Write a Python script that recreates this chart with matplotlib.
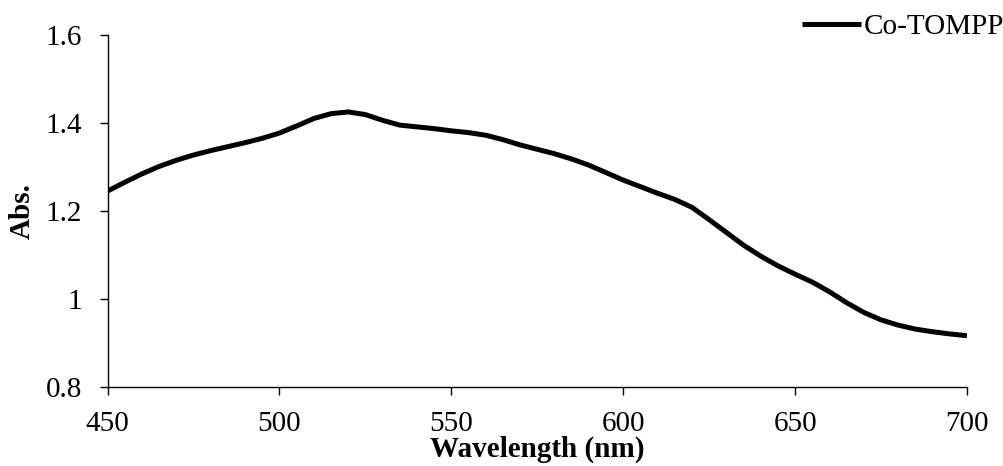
import matplotlib
matplotlib.use("Agg")
import matplotlib.pyplot as plt

# UV-Vis absorption spectrum of Co-TOMPP
wavelength = [450, 455, 460, 465, 470, 475, 480, 485, 490, 495,
              500, 505, 510, 515, 520, 525, 530, 535, 540, 545,
              550, 555, 560, 565, 570, 575, 580, 585, 590, 595,
              600, 605, 610, 615, 620, 625, 630, 635, 640, 645,
              650, 655, 660, 665, 670, 675, 680, 685, 690, 695, 700]
absorbance = [1.245, 1.265, 1.284, 1.301, 1.315, 1.327, 1.337, 1.346, 1.355, 1.365,
              1.377, 1.393, 1.410, 1.421, 1.425, 1.419, 1.406, 1.395, 1.391, 1.387,
              1.382, 1.378, 1.372, 1.362, 1.350, 1.340, 1.330, 1.318, 1.304, 1.287,
              1.270, 1.255, 1.240, 1.226, 1.208, 1.180, 1.151, 1.122, 1.097, 1.075,
              1.056, 1.038, 1.016, 0.991, 0.969, 0.952, 0.940, 0.931, 0.925, 0.920, 0.916]

series_name = "Co-TOMPP"
x_ticks = [450, 500, 550, 600, 650, 700]
y_ticks = [0.8, 1.0, 1.2, 1.4, 1.6]
y_tick_labels = ["0.8", "1", "1.2", "1.4", "1.6"]

plt.rcParams["font.family"] = ["Liberation Serif", "DejaVu Serif"]
FS = 21

fig = plt.figure(figsize=(10.04, 4.66), dpi=100)
ax = fig.add_axes([0.1071, 0.1702, 0.9631 - 0.1071, 0.9249 - 0.1702])

line, = ax.plot(wavelength, absorbance, color="black", lw=3.6,
                solid_capstyle="butt", solid_joinstyle="round",
                label=series_name)

ax.set_xlim(450, 700)
ax.set_ylim(0.8, 1.6)
ax.set_xticks(x_ticks)
ax.set_xticklabels([str(v) for v in x_ticks])
ax.set_yticks(y_ticks)
ax.set_yticklabels(y_tick_labels)

for side in ("top", "right"):
    ax.spines[side].set_visible(False)
for side in ("left", "bottom"):
    ax.spines[side].set_linewidth(1.0)
    ax.spines[side].set_color("black")

ax.tick_params(axis="both", direction="out", length=5.5, width=1.0,
               labelsize=FS, colors="black")
ax.tick_params(axis="y", pad=13)
ax.tick_params(axis="x", pad=12)

ax.set_xlabel("Wavelength (nm)", fontsize=FS, fontweight="bold")
ax.xaxis.set_label_coords(0.5, -0.140)
ax.set_ylabel("Abs.", fontsize=FS, fontweight="bold")
ax.yaxis.set_label_coords(-0.083, 0.5)

fig.legend(handles=[line], loc="center right",
           bbox_to_anchor=(1004 / 1004, 1 - 27 / 466),
           bbox_transform=fig.transFigure, frameon=False,
           fontsize=FS, handlelength=2.0, handletextpad=0.1,
           borderpad=0, borderaxespad=0)

fig.savefig("out.png", dpi=100, facecolor="white")
